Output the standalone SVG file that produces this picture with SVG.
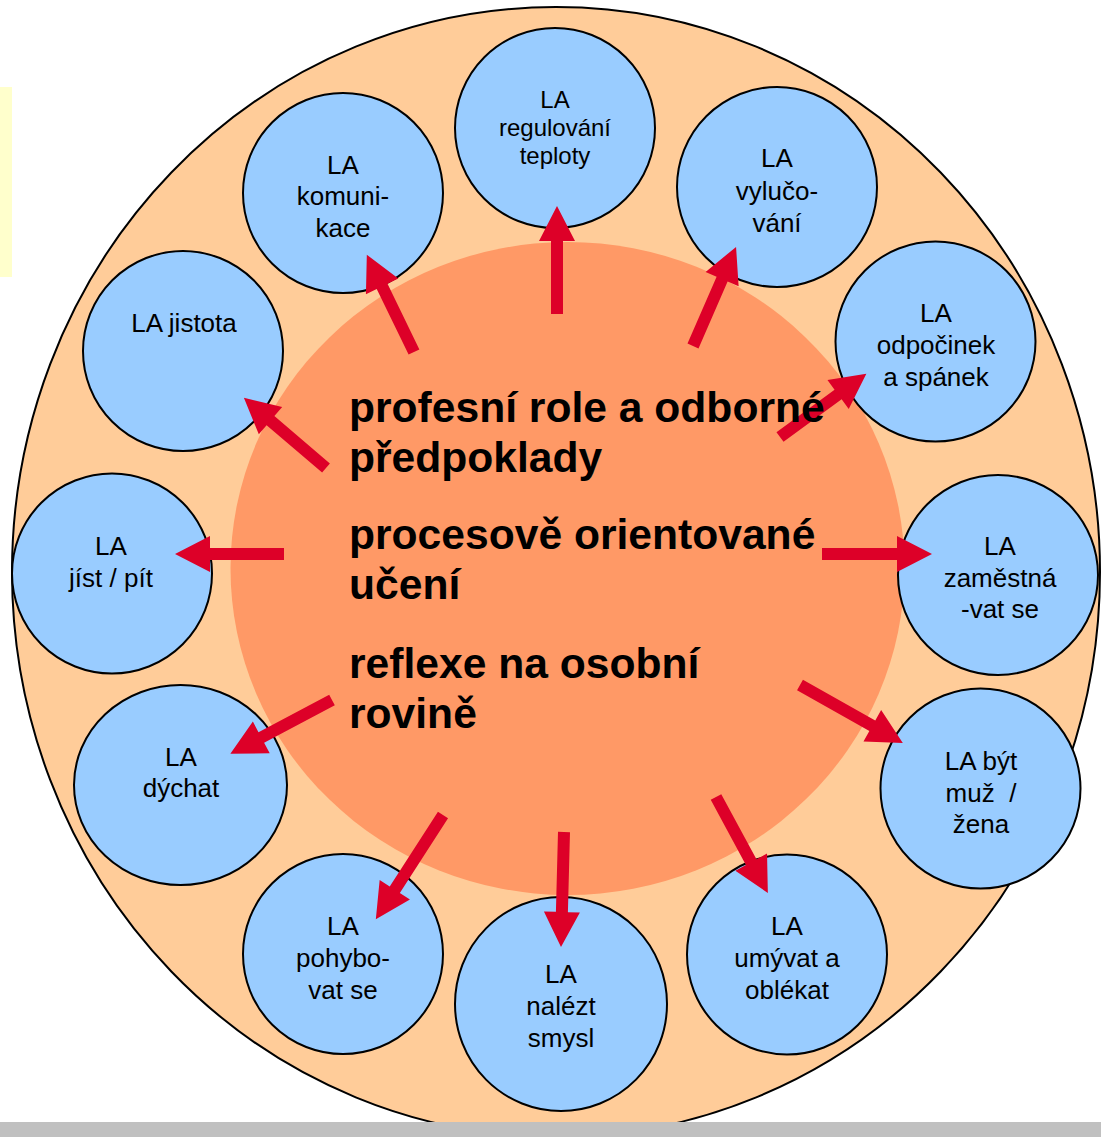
<svg xmlns="http://www.w3.org/2000/svg" width="1101" height="1137" viewBox="0 0 1101 1137">
<defs>
<style>
.la{fill:#99CCFF;stroke:#000;stroke-width:2}
.t{font-family:"Liberation Sans",Arial,sans-serif;font-size:26px;fill:#000;text-anchor:middle}
.ts{font-size:24px}
.main{font-family:"Liberation Sans",Arial,sans-serif;font-size:42.6px;font-weight:bold;fill:#000}
.arr{fill:#DD0028}
</style>
</defs>
<rect x="0" y="0" width="1101" height="1137" fill="#FFFFFF"/>
<rect x="0" y="87" width="12" height="190" fill="#FFFFCC"/>
<ellipse cx="556" cy="572" rx="544" ry="565" fill="#FFCC99" stroke="#000" stroke-width="2"/>
<ellipse id="center" cx="567.5" cy="568.5" rx="337" ry="326.5" fill="#FF9966"/>

<g id="la-regulovani"><circle class="la" cx="555" cy="128" r="100"/>
<text class="t ts" x="555" y="108">LA</text><text class="t ts" x="555" y="136">regulování</text><text class="t ts" x="555" y="164">teploty</text></g>
<g id="la-vylucovani"><circle class="la" cx="777" cy="187" r="100"/>
<text class="t" x="777" y="167">LA</text><text class="t" x="777" y="200">vylučo-</text><text class="t" x="777" y="232">vání</text></g>
<g id="la-odpocinek"><circle class="la" cx="935.5" cy="341.5" r="100"/>
<text class="t" x="936" y="322">LA</text><text class="t" x="936" y="354">odpočinek</text><text class="t" x="936" y="386">a spánek</text></g>
<g id="la-zamestnavat"><circle class="la" cx="998" cy="575" r="100"/>
<text class="t" x="1000" y="555">LA</text><text class="t" x="1000" y="587">zaměstná</text><text class="t" x="1000" y="618">-vat se</text></g>
<g id="la-byt"><circle class="la" cx="980.5" cy="788.5" r="100"/>
<text class="t" x="981" y="770">LA být</text><text class="t" x="981" y="802" xml:space="preserve">muž  /</text><text class="t" x="981" y="833">žena</text></g>
<g id="la-umyvat"><circle class="la" cx="787" cy="954.5" r="100"/>
<text class="t" x="787" y="935">LA</text><text class="t" x="787" y="967">umývat a</text><text class="t" x="787" y="999">oblékat</text></g>
<g id="la-nalezt"><ellipse class="la" cx="561" cy="1004" rx="106" ry="107"/>
<text class="t" x="561" y="983">LA</text><text class="t" x="561" y="1015">nalézt</text><text class="t" x="561" y="1047">smysl</text></g>
<g id="la-pohybovat"><circle class="la" cx="343" cy="954" r="100"/>
<text class="t" x="343" y="935">LA</text><text class="t" x="343" y="967">pohybo-</text><text class="t" x="343" y="999">vat se</text></g>
<g id="la-dychat"><ellipse class="la" cx="180.5" cy="785" rx="106.5" ry="100"/>
<text class="t" x="181" y="766">LA</text><text class="t" x="181" y="797">dýchat</text></g>
<g id="la-jist"><circle class="la" cx="112" cy="573.5" r="100"/>
<text class="t" x="111" y="555">LA</text><text class="t" x="111" y="587">jíst / pít</text></g>
<g id="la-jistota"><circle class="la" cx="183" cy="351" r="100"/>
<text class="t" x="184" y="332">LA jistota</text></g>
<g id="la-komunikace"><circle class="la" cx="343" cy="193" r="100"/>
<text class="t" x="343" y="174">LA</text><text class="t" x="343" y="205">komuni-</text><text class="t" x="343" y="237">kace</text></g>

<g id="connectors" class="arr">
<polygon transform="translate(557,314) rotate(-90)" points="0,-6 73,-6 73,-18 108,0 73,18 73,6 0,6"/>
<polygon transform="translate(693,346) rotate(-66.5)" points="0,-6 73,-6 73,-18 108,0 73,18 73,6 0,6"/>
<polygon transform="translate(780,437) rotate(-36.2)" points="0,-6 72,-6 72,-18 107,0 72,18 72,6 0,6"/>
<polygon transform="translate(822,554)" points="0,-6 75,-6 75,-18 110,0 75,18 75,6 0,6"/>
<polygon transform="translate(800,685) rotate(29.4)" points="0,-6 83,-6 83,-18 118,0 83,18 83,6 0,6"/>
<polygon transform="translate(716,797) rotate(61.6)" points="0,-6 74,-6 74,-18 109,0 74,18 74,6 0,6"/>
<polygon transform="translate(564,832) rotate(91.5)" points="0,-6 80,-6 80,-18 115,0 80,18 80,6 0,6"/>
<polygon transform="translate(443,815) rotate(122.8)" points="0,-6 89,-6 89,-18 124,0 89,18 89,6 0,6"/>
<polygon transform="translate(332,700) rotate(152.1)" points="0,-6 80,-6 80,-18 115,0 80,18 80,6 0,6"/>
<polygon transform="translate(284,554) rotate(180)" points="0,-6 74,-6 74,-18 109,0 74,18 74,6 0,6"/>
<polygon transform="translate(326,468) rotate(-139.5)" points="0,-6 73,-6 73,-18 108,0 73,18 73,6 0,6"/>
<polygon transform="translate(414,352) rotate(-115.9)" points="0,-6 73,-6 73,-18 108,0 73,18 73,6 0,6"/>
</g>

<g id="center-text">
<text class="main" x="349" y="422">profesní role a odborné</text>
<text class="main" x="349" y="472">předpoklady</text>
<text class="main" x="349" y="549">procesově orientované</text>
<text class="main" x="349" y="599">učení</text>
<text class="main" x="349" y="678">reflexe na osobní</text>
<text class="main" x="349" y="728">rovině</text>
</g>
<rect x="0" y="1122" width="1101" height="15" fill="#C0C0C0"/>
</svg>
